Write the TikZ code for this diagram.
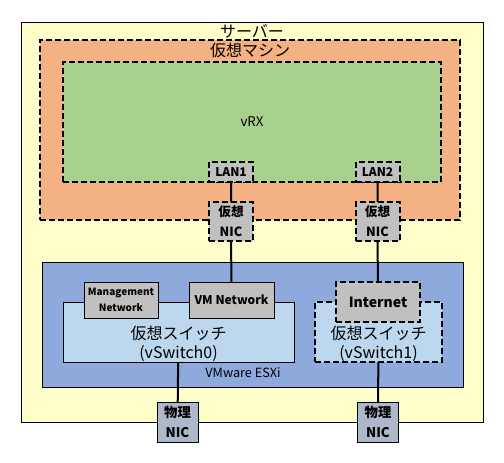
\documentclass[tikz,border=0pt]{standalone}
\usepackage{fontspec}
\setmainfont{Noto Sans CJK JP}
\usetikzlibrary{positioning}
\definecolor{serverbg}{HTML}{FFFFCC}
\definecolor{vmbg}{HTML}{F4B183}
\definecolor{vrxbg}{HTML}{A9D18E}
\definecolor{portbg}{HTML}{C0C0C0}
\definecolor{esxibg}{HTML}{8EA9DB}
\definecolor{switchbg}{HTML}{BDD7EE}
\definecolor{nicbg}{HTML}{ADB9CA}

\begin{document}
\begin{tikzpicture}[x=0.75pt,y=-0.75pt]

        % Setup the styles for the boxes
        \tikzset{box size/.style 2 args={minimum width=#1*0.75pt,
                                         minimum height=#2*0.75pt},
                 box style/.style={draw=black,
                                   line width=0.75pt,
                                   inner sep=0pt,
                                   outer sep=0pt},
                 dash style/.style={box style,
                                    line width=1.5pt,
                                    dash pattern=on 4.5pt off 2.25pt},
                 port style/.style={font=\bfseries\fontsize{9}{10}\selectfont,
                                    align=center},
                 title style/.style={font=\fontsize{12}{14}\selectfont},
                 switch style/.style={align=center,
                                      font=\fontsize{12}{14.5}\selectfont}}

        \useasboundingbox (0,0) rectangle (504,462);

        % Draw the outer boxes
        \node[box style, fill=serverbg, box size={462}{400}] at (252, 222) (server) {};
        \node[title style] at (252, 31) (servertitle) {サーバー};
        \node[dash style, fill=vmbg, box size={420}{180}] at (250, 130) (vm) {};
        \node[title style] at (250, 50) (vmtitle) {仮想マシン};
        \node[dash style, fill=vrxbg, box size={378}{120},
              font=\fontsize{10}{12}\selectfont] at (252, 122) (vrx) {vRX};

        % Draw the ports and virtual NICs
        \node[dash style, port style, fill=portbg, box size={44}{20}] at (231, 172) (lan1) {LAN1};
        \node[dash style, port style, fill=portbg, box size={44}{20}] at (377.5, 172) (lan2) {LAN2};
        \node[dash style, port style, fill=portbg, box size={44}{39},
              font=\bfseries\fontsize{9.5}{15}\selectfont] at (231, 221.5) (vnic1) {仮想\\NIC};
        \node[dash style, port style, fill=portbg, box size={44}{39},
              font=\bfseries\fontsize{9.5}{15}\selectfont] at (377.5, 221.5) (vnic2) {仮想\\NIC};

        % Draw the hypervisor and the switches
        \node[box style, fill=esxibg, box size={421}{125}] at (252.5, 324.5) (esxi) {};
        \node[font=\fontsize{9.5}{11}\selectfont] at (243, 373) (esxititle) {VMware ESXi};
        \node[box style, fill=switchbg, box size={231}{60}] at (178.5, 332) (vsw0) {};
        \node[switch style] at (178.5, 344) (vsw0text) {仮想スイッチ\\(vSwitch0)};
        \node[box style, port style, fill=portbg, box size={74}{36},
              font=\bfseries\fontsize{7.5}{12}\selectfont] at (121, 300) (mgmt) {Management\\Network};
        \node[box style, port style, fill=portbg, box size={85}{36}] at (231.5, 300) (vmnet) {VM Network};
        \node[dash style, fill=switchbg, box size={127}{60}] at (378.5, 332) (vsw1) {};
        \node[switch style] at (378.5, 344) (vsw1text) {仮想スイッチ\\(vSwitch1)};
        \node[dash style, port style, fill=portbg, box size={84}{40},
              font=\bfseries\fontsize{10.5}{12}\selectfont] at (378, 302) (inet) {Internet};

        % Draw the physical NICs
        \node[box style, port style, fill=nicbg, box size={41}{40},
              font=\bfseries\fontsize{10}{15}\selectfont] at (177.5, 422) (pnic1) {物理\\NIC};
        \node[box style, port style, fill=nicbg, box size={41}{40},
              font=\bfseries\fontsize{10}{15}\selectfont] at (378, 422) (pnic2) {物理\\NIC};

        % Connect the boxes with lines
        \draw[line width=1.5pt]
            (lan1) -- (vnic1)
            (vnic1) -- (vmnet)
            (lan2) -- (vnic2)
            (vnic2) -- (inet)
            (vsw0) -- (pnic1)
            (vsw1) -- (pnic2);
\end{tikzpicture}
\end{document}
